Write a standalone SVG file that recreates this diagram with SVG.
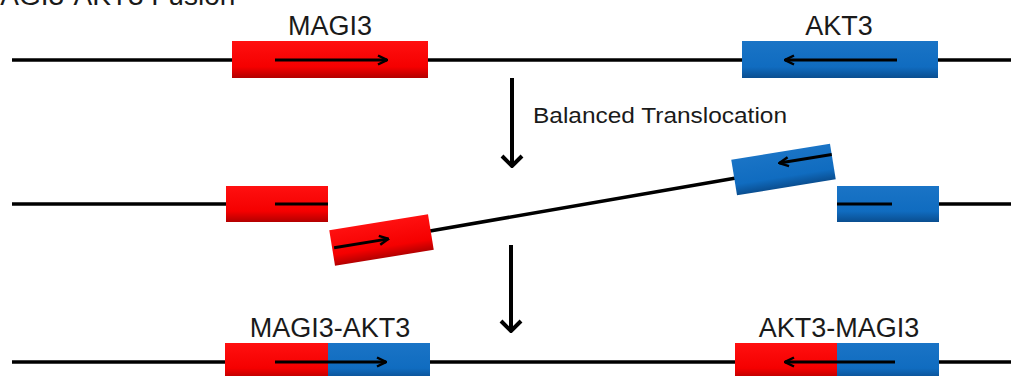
<svg xmlns="http://www.w3.org/2000/svg" width="1011" height="376" viewBox="0 0 1011 376">
<style>
.chr{stroke:#000;stroke-width:3.5;fill:none}
.red{fill:url(#gRed)}
.blue{fill:url(#gBlue)}
.inner{stroke:#000;stroke-width:3;fill:none}
.down{stroke:#000;stroke-width:4;fill:none}
.lbl{font-family:"Liberation Sans",Arial,sans-serif;font-size:27px;fill:#1a1a1a}
</style>
<defs>
<linearGradient id="gRed" x1="0" y1="0" x2="0" y2="1">
<stop offset="0" stop-color="#ff1010"/>
<stop offset="0.7" stop-color="#f50000"/>
<stop offset="1" stop-color="#b30000"/>
</linearGradient>
<linearGradient id="gBlue" x1="0" y1="0" x2="0" y2="1">
<stop offset="0" stop-color="#1a74c6"/>
<stop offset="0.7" stop-color="#106cc0"/>
<stop offset="1" stop-color="#0a4e90"/>
</linearGradient>
<marker id="head" viewBox="0 0 12 12" refX="11" refY="6" markerWidth="12" markerHeight="12" markerUnits="userSpaceOnUse" orient="auto">
<path d="M2,1.5 L11,6 L2,10.5" fill="none" stroke="#000" stroke-width="2.5"/>
</marker>
<marker id="bighead" viewBox="0 0 20 24" refX="18" refY="12" markerWidth="20" markerHeight="24" markerUnits="userSpaceOnUse" orient="auto">
<path d="M8,2 L18,12 L8,22" fill="none" stroke="#000" stroke-width="4"/>
</marker>
</defs>
<rect width="1011" height="376" fill="#fff"/>
<text class="lbl" x="-23" y="5" style="font-size:28px">MAGI3-AKT3 Fusion</text>

<!-- chromosome lines -->
<g id="chromosomes">
<line class="chr" x1="12" y1="60" x2="1011" y2="60"/>
<line class="chr" x1="12" y1="204" x2="228" y2="204"/>
<line class="chr" x1="937" y1="204" x2="1011" y2="204"/>
<line class="chr" x1="430" y1="231" x2="736" y2="178"/>
<line class="chr" x1="12" y1="362" x2="1011" y2="362"/>
</g>

<!-- Row 1 -->
<g id="magi3">
<rect class="red" x="232" y="41" width="196" height="37"/>
<line class="inner" x1="275" y1="60" x2="387" y2="60" marker-end="url(#head)"/>
<text class="lbl" x="330" y="35" text-anchor="middle">MAGI3</text>
</g>
<g id="akt3">
<rect class="blue" x="742" y="41" width="196" height="37"/>
<line class="inner" x1="897" y1="60" x2="785" y2="60" marker-end="url(#head)"/>
<text class="lbl" x="839" y="35" text-anchor="middle">AKT3</text>
</g>

<!-- Row 2 -->
<g id="magi3-5prime">
<rect class="red" x="226" y="186" width="102" height="36"/>
<line class="inner" x1="275" y1="204" x2="328" y2="204"/>
</g>
<g id="magi3-3prime" transform="translate(381.5,240) rotate(-9.2)">
<rect class="red" x="-50" y="-18" width="100" height="36"/>
<line class="inner" x1="-48" y1="0" x2="7" y2="0" marker-end="url(#head)"/>
</g>
<g id="akt3-3prime" transform="translate(783.5,169.5) rotate(-9.2)">
<rect class="blue" x="-50" y="-18" width="100" height="36"/>
<line class="inner" x1="50" y1="-7" x2="-3" y2="-7" marker-end="url(#head)"/>
</g>
<g id="akt3-5prime">
<rect class="blue" x="837" y="186" width="102" height="36"/>
<line class="inner" x1="837" y1="204" x2="892" y2="204"/>
</g>

<!-- Row 3 -->
<g id="magi3-akt3">
<rect class="red" x="225" y="343" width="103" height="36"/>
<rect class="blue" x="328" y="343" width="102" height="36"/>
<line class="inner" x1="275" y1="362" x2="386" y2="362" marker-end="url(#head)"/>
<text class="lbl" x="330" y="337" text-anchor="middle">MAGI3-AKT3</text>
</g>
<g id="akt3-magi3">
<rect class="red" x="735" y="343" width="102" height="36"/>
<rect class="blue" x="837" y="343" width="102" height="36"/>
<line class="inner" x1="895" y1="362" x2="785" y2="362" marker-end="url(#head)"/>
<text class="lbl" x="839" y="337" text-anchor="middle">AKT3-MAGI3</text>
</g>

<!-- connectors -->
<g id="connectors">
<line class="down" x1="512" y1="78" x2="512" y2="166" marker-end="url(#bighead)"/>
<line class="down" x1="511" y1="245" x2="511" y2="331" marker-end="url(#bighead)"/>
<text class="lbl" x="533" y="123" style="font-size:22px" textLength="254" lengthAdjust="spacingAndGlyphs">Balanced Translocation</text>
</g>
</svg>
